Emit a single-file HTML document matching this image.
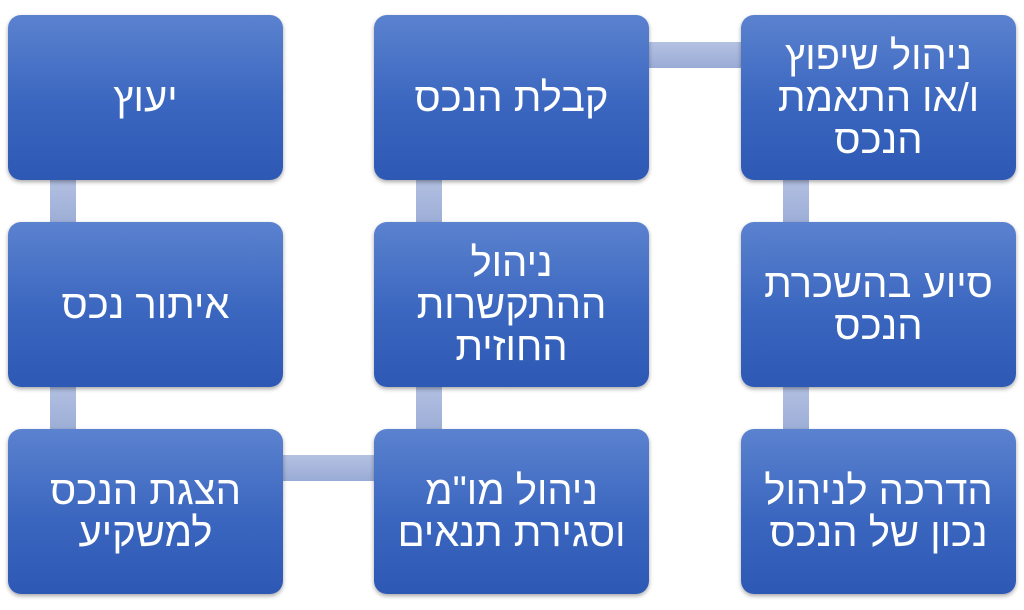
<!DOCTYPE html>
<html><head><meta charset="utf-8"><style>
body{margin:0;width:1024px;height:610px;background:#fff;position:relative;overflow:hidden;font-family:"Liberation Sans","DejaVu Sans",sans-serif}
.b{position:absolute;width:275px;height:165px;border-radius:13px;background:linear-gradient(#5b82cf,#3a66bf 55%,#2d59b5);box-shadow:0 2px 4px rgba(0,0,0,.35);color:#fff;display:flex;align-items:center;justify-content:center;text-align:center;direction:rtl;font-size:40px;line-height:42px}
.c{position:absolute;background:linear-gradient(#b4c1e2,#99abd5);}
</style></head><body>
<div class="c" style="left:50px;top:175px;width:26px;height:55px"></div>
<div class="c" style="left:50px;top:382px;width:26px;height:55px"></div>
<div class="c" style="left:416px;top:175px;width:26px;height:55px"></div>
<div class="c" style="left:416px;top:382px;width:26px;height:55px"></div>
<div class="c" style="left:783px;top:175px;width:26px;height:55px"></div>
<div class="c" style="left:783px;top:382px;width:26px;height:55px"></div>
<div class="c" style="left:645px;top:42px;width:100px;height:26px"></div>
<div class="c" style="left:278px;top:455px;width:100px;height:26px"></div>
<div class="b" style="left:8px;top:15px">יעוץ</div>
<div class="b" style="left:8px;top:222px">איתור נכס</div>
<div class="b" style="left:8px;top:429px">הצגת הנכס<br>למשקיע</div>
<div class="b" style="left:374px;top:15px">קבלת הנכס</div>
<div class="b" style="left:374px;top:222px">ניהול<br>ההתקשרות<br>החוזית</div>
<div class="b" style="left:374px;top:429px">ניהול מו"מ<br>וסגירת תנאים</div>
<div class="b" style="left:741px;top:15px">ניהול שיפוץ<br>ו/או התאמת<br>הנכס</div>
<div class="b" style="left:741px;top:222px">סיוע בהשכרת<br>הנכס</div>
<div class="b" style="left:741px;top:429px">הדרכה לניהול<br>נכון של הנכס</div>
</body></html>
